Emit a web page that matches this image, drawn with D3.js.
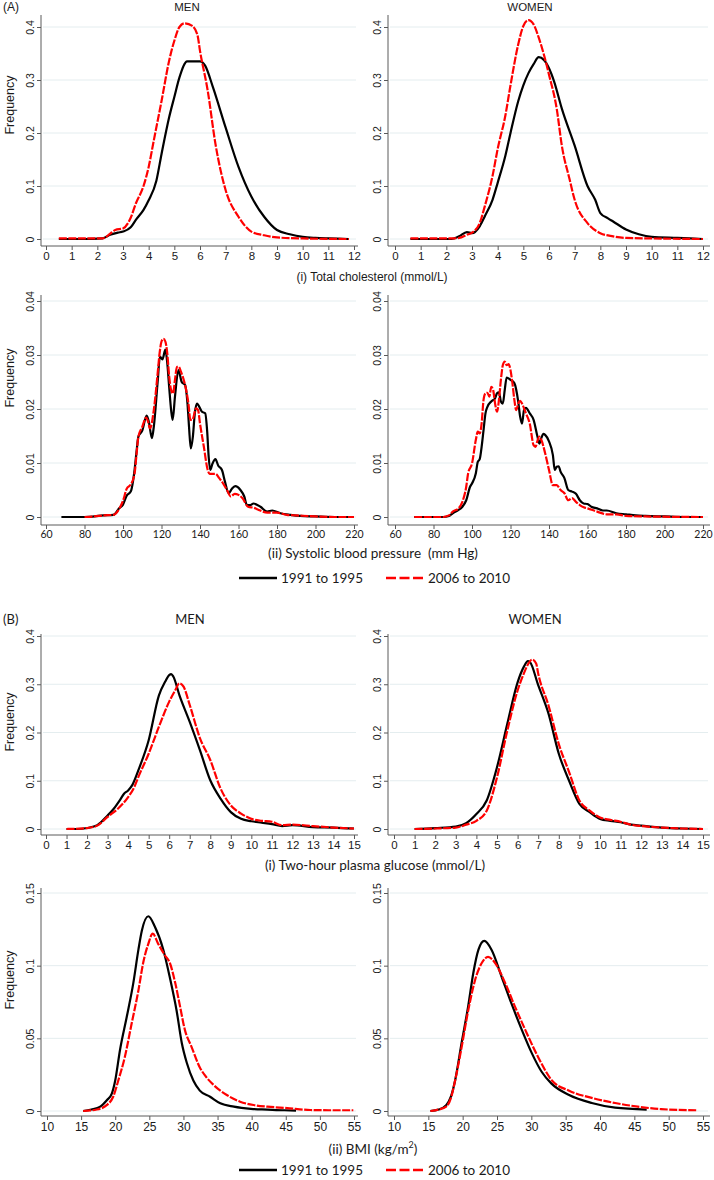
<!DOCTYPE html>
<html>
<head>
<meta charset="utf-8">
<script src="https://cdn.jsdelivr.net/npm/d3@7"></script>
<style>
    body { margin: 0; background: #fff; }
    text { fill: #1a1a1a; }
</style>
</head>
<body>
<svg id="chart" width="714" height="1180"></svg>
<script>
/* global d3 */
// --- data: [value, frequency] pairs ---
var cholTicks = [0, 1, 2, 3, 4, 5, 6, 7, 8, 9, 10, 11, 12];
var cholFreqTicks = [0, 0.1, 0.2, 0.3, 0.4];
var cholMenOld = [[0.5,0],[1.5,0],[2.2,0.001],[2.5,0.008],[2.8,0.012],[3.0,0.014],[3.3,0.022],[3.5,0.036],[3.8,0.055],[4.0,0.073],[4.3,0.11],[4.5,0.16],[4.8,0.23],[5.0,0.268],[5.2,0.305],[5.5,0.335],[5.8,0.335],[6.0,0.335],[6.2,0.327],[6.5,0.287],[7.0,0.21],[7.5,0.136],[8.0,0.08],[8.5,0.042],[9.0,0.017],[9.5,0.009],[10.0,0.004],[10.5,0.002],[11.0,0.001],[11.8,0]];
var cholMenNew = [[0.5,0.001],[2.2,0.001],[2.5,0.01],[2.7,0.017],[3.0,0.02],[3.3,0.04],[3.5,0.067],[3.8,0.1],[4.0,0.136],[4.2,0.186],[4.5,0.26],[4.8,0.337],[5.0,0.374],[5.2,0.4],[5.4,0.407],[5.7,0.402],[5.9,0.385],[6.0,0.355],[6.3,0.28],[6.6,0.18],[7.0,0.092],[7.5,0.042],[8.0,0.014],[8.5,0.007],[9.0,0.003],[10.0,0.001],[11.8,0]];
var cholWomenOld = [[0.6,0],[2.2,0],[2.5,0.005],[2.8,0.013],[3.0,0.011],[3.3,0.024],[3.5,0.043],[3.8,0.074],[4.0,0.106],[4.3,0.157],[4.5,0.2],[4.8,0.26],[5.0,0.29],[5.2,0.313],[5.4,0.33],[5.6,0.343],[5.8,0.338],[6.0,0.322],[6.2,0.297],[6.5,0.246],[7.0,0.176],[7.5,0.1],[7.8,0.074],[8.0,0.049],[8.3,0.039],[8.5,0.033],[9.0,0.018],[9.5,0.009],[10.0,0.004],[11.0,0.002],[12.0,0]];
var cholWomenNew = [[0.6,0.001],[2.2,0.001],[2.5,0.002],[2.8,0.008],[3.0,0.012],[3.3,0.03],[3.5,0.062],[3.8,0.119],[4.0,0.17],[4.3,0.233],[4.5,0.29],[4.8,0.367],[5.0,0.402],[5.2,0.413],[5.4,0.405],[5.6,0.38],[5.8,0.348],[6.0,0.31],[6.3,0.246],[6.5,0.176],[6.8,0.113],[7.0,0.074],[7.5,0.03],[8.0,0.011],[8.5,0.005],[9.0,0.002],[10.0,0.001],[12.0,0]];

var sbpTicks = [60, 80, 100, 120, 140, 160, 180, 200, 220];
var sbpFreqTicks = [0, 0.01, 0.02, 0.03, 0.04];
var sbpMenOld = [[68,0],[80,0],[90,0.0003],[95,0.0004],[98,0.0016],[100,0.0023],[102,0.004],[104,0.0047],[106,0.0087],[107,0.012],[108,0.0149],[110,0.016],[112.3,0.0188],[113.5,0.0175],[115,0.0146],[116,0.0167],[118,0.025],[119.2,0.0297],[120.5,0.0292],[122,0.031],[123,0.0285],[124,0.024],[125,0.0198],[125.8,0.018],[127,0.0223],[128.8,0.0272],[130.5,0.025],[132.3,0.0244],[133.5,0.021],[134.3,0.0167],[135.2,0.0127],[136.3,0.0149],[137.3,0.0192],[138.4,0.021],[141,0.0195],[142.7,0.0192],[143.7,0.016],[144.5,0.0112],[145.3,0.0087],[146.5,0.0099],[148,0.0107],[149.5,0.0095],[151.4,0.0087],[153,0.0065],[154.9,0.0044],[156.5,0.0052],[158.3,0.0057],[161,0.005],[163,0.0038],[164.4,0.0022],[166,0.0022],[167.8,0.0025],[171.4,0.0019],[174.9,0.001],[177.5,0.0012],[181.8,0.0007],[187,0.0004],[192,0.0002],[200,0.0001],[210,0],[220,0]];
var sbpMenNew = [[80,0],[85,0.0001],[90,0.0003],[95,0.0004],[98,0.0015],[100,0.003],[102,0.0053],[104,0.006],[106,0.008],[107,0.0115],[108,0.0149],[110,0.0167],[112,0.0184],[113,0.0177],[114,0.0164],[116,0.0198],[118,0.0266],[119,0.0303],[120,0.0325],[121,0.033],[122,0.0325],[123,0.0303],[124,0.026],[125,0.0235],[126,0.0229],[127,0.0254],[128,0.0278],[129,0.0278],[130,0.027],[132,0.0248],[134,0.021],[135,0.018],[136,0.018],[138,0.0201],[139,0.0198],[140,0.0173],[142,0.013],[144,0.0087],[145,0.008],[148,0.008],[150,0.0072],[152,0.0062],[154,0.005],[156,0.0038],[158,0.0043],[160,0.0041],[162,0.0035],[165,0.0019],[168,0.0017],[170,0.0014],[175,0.0008],[180,0.0008],[185,0.0004],[190,0.0003],[200,0.0001],[210,0],[220,0]];
var sbpWomenOld = [[70,0],[85,0],[88,0.0002],[90,0.0007],[93,0.0013],[95,0.0019],[97,0.0031],[99,0.0056],[100,0.0062],[102,0.0081],[103,0.0102],[104,0.0107],[105,0.013],[106,0.0161],[107,0.0192],[108,0.0204],[110,0.0214],[112,0.022],[113,0.0229],[114,0.0231],[115,0.0214],[116,0.021],[117,0.0235],[118,0.0258],[120,0.0254],[122,0.0248],[124,0.0214],[125,0.0186],[126,0.0173],[127,0.0198],[128,0.0202],[130,0.0192],[132,0.018],[134,0.0149],[135,0.0136],[136,0.0146],[137,0.0154],[138,0.0152],[140,0.014],[142,0.0115],[143,0.0087],[144,0.0093],[145,0.0094],[146,0.0084],[148,0.0072],[150,0.005],[152,0.0047],[154,0.0043],[156,0.0031],[158,0.0025],[160,0.0024],[162,0.0019],[165,0.0016],[168,0.0012],[170,0.0012],[175,0.0007],[180,0.0005],[185,0.0003],[190,0.0002],[200,0.0001],[210,0],[220,0]];
var sbpWomenNew = [[70,0],[85,0],[88,0.0003],[90,0.001],[93,0.0016],[95,0.0028],[97,0.0056],[98,0.0081],[100,0.0099],[102,0.0143],[103,0.0158],[104,0.0155],[105,0.0173],[106,0.0217],[107,0.0229],[108,0.023],[109,0.0223],[110,0.0241],[111,0.0235],[112,0.021],[113,0.0195],[114,0.0217],[115,0.0254],[116,0.0281],[117,0.0288],[118,0.0281],[119,0.0283],[120,0.0272],[121,0.0248],[122,0.0217],[123,0.0198],[124,0.021],[125,0.0215],[126,0.021],[128,0.0192],[130,0.0173],[132,0.0133],[133,0.013],[134,0.0141],[135,0.0149],[136,0.0143],[138,0.0118],[140,0.0087],[142,0.0059],[144,0.0059],[146,0.005],[148,0.0044],[150,0.0031],[152,0.0035],[154,0.0028],[156,0.0022],[158,0.0018],[160,0.0016],[165,0.001],[170,0.0005],[175,0.0005],[180,0.0002],[190,0.0001],[220,0]];

var glucTicks = [0, 1, 2, 3, 4, 5, 6, 7, 8, 9, 10, 11, 12, 13, 14, 15];
var glucFreqTicks = [0, 0.1, 0.2, 0.3, 0.4];
var glucMenOld = [[1.0,0],[1.5,0],[2.0,0.002],[2.5,0.008],[3.0,0.028],[3.3,0.042],[3.6,0.06],[3.8,0.073],[4.0,0.08],[4.2,0.091],[4.5,0.122],[5.0,0.184],[5.5,0.277],[5.8,0.305],[6.0,0.319],[6.1,0.321],[6.2,0.316],[6.5,0.277],[7.0,0.222],[7.5,0.163],[8.0,0.101],[8.5,0.063],[9.0,0.035],[9.5,0.021],[10.0,0.016],[10.5,0.013],[11.0,0.01],[11.5,0.006],[12.0,0.008],[13.0,0.004],[14.0,0.003],[15.0,0.001]];
var glucMenNew = [[1.0,0],[2.0,0.002],[2.5,0.007],[3.0,0.025],[3.5,0.042],[4.0,0.066],[4.3,0.087],[4.5,0.108],[5.0,0.156],[5.5,0.212],[6.0,0.264],[6.3,0.288],[6.5,0.302],[6.7,0.295],[7.0,0.257],[7.5,0.188],[8.0,0.143],[8.5,0.084],[9.0,0.049],[9.5,0.032],[10.0,0.021],[10.5,0.017],[11.0,0.015],[11.5,0.008],[12.0,0.009],[13.0,0.006],[14.0,0.003],[15.0,0.001]];
var glucWomenOld = [[1.0,0],[2.0,0.002],[3.0,0.005],[3.5,0.012],[4.0,0.031],[4.5,0.059],[5.0,0.128],[5.5,0.218],[6.0,0.304],[6.3,0.336],[6.5,0.348],[6.6,0.346],[7.0,0.298],[7.5,0.239],[8.0,0.156],[8.5,0.1],[9.0,0.052],[9.5,0.035],[10.0,0.021],[10.5,0.017],[11.0,0.014],[11.5,0.009],[12.0,0.007],[13.0,0.003],[14.0,0.001],[15.0,0]];
var glucWomenNew = [[1.0,0],[2.0,0.001],[3.0,0.003],[3.5,0.009],[4.0,0.017],[4.5,0.038],[5.0,0.107],[5.5,0.204],[6.0,0.287],[6.3,0.322],[6.5,0.341],[6.7,0.351],[6.9,0.343],[7.0,0.322],[7.5,0.256],[8.0,0.176],[8.5,0.118],[9.0,0.059],[9.5,0.038],[10.0,0.024],[10.5,0.019],[11.0,0.015],[11.5,0.009],[12.0,0.006],[13.0,0.003],[14.0,0.001],[15.0,0]];

var bmiTicks = [10, 15, 20, 25, 30, 35, 40, 45, 50, 55];
var bmiFreqTicks = [0, 0.05, 0.1, 0.15];
var bmiMenOld = [[15.3,0],[16.5,0.001],[17.8,0.003],[18.8,0.0076],[19.5,0.012],[20.0,0.021],[20.7,0.042],[21.7,0.065],[22.65,0.088],[23.4,0.111],[23.9,0.124],[24.85,0.134],[25.8,0.127],[27.05,0.111],[28.0,0.092],[29.0,0.069],[29.75,0.047],[30.5,0.033],[31.45,0.021],[32.4,0.014],[33.9,0.0098],[35.4,0.0053],[37.4,0.003],[39.9,0.0015],[42.3,0.001],[44.8,0.0005],[46.5,0.0003]];
var bmiMenNew = [[15.3,0],[17.3,0.001],[18.75,0.004],[19.7,0.0098],[20.45,0.021],[21.4,0.037],[22.4,0.06],[23.4,0.083],[24.1,0.102],[24.85,0.115],[25.5,0.122],[26.3,0.115],[27.3,0.107],[28.0,0.102],[28.8,0.088],[29.5,0.072],[30.2,0.056],[31.2,0.044],[32.4,0.03],[33.4,0.023],[34.4,0.018],[36.35,0.011],[38.3,0.0064],[40.3,0.0041],[42.3,0.003],[45.2,0.002],[48.6,0.0007],[52.0,0.0005],[54.9,0.0005]];
var bmiWomenOld = [[15.3,0],[16.5,0.001],[17.6,0.004],[18.3,0.01],[18.9,0.021],[19.85,0.047],[20.8,0.072],[21.55,0.095],[22.3,0.111],[23.15,0.117],[24.2,0.111],[25.7,0.092],[27.1,0.074],[28.6,0.056],[30.05,0.04],[31.5,0.027],[32.9,0.019],[35.5,0.011],[38.8,0.0055],[42.2,0.0023],[46.8,0.001]];
var bmiWomenNew = [[15.3,0],[16.5,0.001],[17.6,0.003],[18.3,0.009],[18.9,0.021],[19.85,0.044],[20.8,0.069],[21.8,0.09],[22.8,0.102],[23.7,0.106],[24.7,0.102],[26.2,0.088],[27.6,0.072],[29.1,0.056],[31.0,0.037],[33.0,0.021],[35.5,0.014],[38.8,0.009],[42.2,0.0055],[45.5,0.003],[48.9,0.0013],[54.2,0.0005]];

var legendLabels = ['1991 to 1995', '2006 to 2010'];

(function(d3) {
    'use strict';

    var svg = d3.select('#chart'),
        ARIAL = '"Liberation Sans", Arial, sans-serif',
        CALIBRI = 'Lato, "Open Sans", sans-serif',
        AXIS_COL = '#5a5a5a',
        GRID_COL = '#e4edef',
        OLD_COL = '#000',
        NEW_COL = '#f00';

    var densityPanel = function(cfg) {
        var g = svg.append('g'),
            x = d3.scaleLinear().domain(cfg.xDomain).range(cfg.xRange),
            y = d3.scaleLinear().domain(cfg.yDomain).range(cfg.yRange),
            line = d3.line()
                .x(function(d) { return x(d[0]); })
                .y(function(d) { return y(d[1]); })
                .curve(d3.curveMonotoneX);

        g.selectAll('line.grid').data(cfg.yTicks).enter().append('line')
            .attr('class', 'grid')
            .attr('x1', cfg.left + 2).attr('x2', cfg.right - 2)
            .attr('y1', function(d) { return y(d); })
            .attr('y2', function(d) { return y(d); })
            .attr('stroke', GRID_COL).attr('stroke-width', 1);

        // y axis, labels rotated like the original
        var ya = g.append('g')
            .attr('transform', 'translate(' + cfg.left + ',0)')
            .call(d3.axisLeft(y).tickValues(cfg.yTicks).tickSize(4)
                .tickFormat(function(d) { return String(d); }));
        ya.select('.domain').remove();
        ya.selectAll('line').attr('stroke', AXIS_COL);
        ya.selectAll('text')
            .attr('x', null).attr('dy', null)
            .attr('text-anchor', 'middle')
            .attr('transform', 'translate(-7,0) rotate(-90)')
            .style('font-family', ARIAL).style('font-size', '10.5px');

        var xa = g.append('g')
            .attr('transform', 'translate(0,' + cfg.axisY + ')')
            .call(d3.axisBottom(x).tickValues(cfg.xTicks).tickSize(4));
        xa.select('.domain').remove();
        xa.selectAll('line').attr('stroke', AXIS_COL);
        xa.selectAll('text')
            .attr('y', 6)
            .style('font-family', cfg.tickFont || ARIAL)
            .style('font-size', cfg.tickSize || '11.5px');

        g.append('line')
            .attr('x1', cfg.left).attr('x2', cfg.left)
            .attr('y1', cfg.top).attr('y2', cfg.axisY)
            .attr('stroke', AXIS_COL).attr('stroke-width', 1);
        g.append('line')
            .attr('x1', cfg.left).attr('x2', cfg.right)
            .attr('y1', cfg.axisY).attr('y2', cfg.axisY)
            .attr('stroke', AXIS_COL).attr('stroke-width', 1);

        if (cfg.ylabel) {
            g.append('text')
                .attr('transform', 'translate(14,' + cfg.ylabelY + ') rotate(-90)')
                .attr('text-anchor', 'middle')
                .style('font-family', ARIAL).style('font-size', '12.5px')
                .text('Frequency');
        }

        g.append('path').datum(cfg.oldData)
            .attr('d', line).attr('fill', 'none')
            .attr('stroke', OLD_COL).attr('stroke-width', 2.2)
            .attr('stroke-linejoin', 'round');
        g.append('path').datum(cfg.newData)
            .attr('d', line).attr('fill', 'none')
            .attr('stroke', NEW_COL).attr('stroke-width', 2.2)
            .attr('stroke-dasharray', '8,1.5');
    };

    var label = function(txt, x, y, font, size, anchor) {
        return svg.append('text')
            .attr('x', x).attr('y', y)
            .attr('text-anchor', anchor || 'middle')
            .style('font-family', font).style('font-size', size)
            .text(txt);
    };

    var legend = function(y) {
        svg.append('line').attr('x1', 239).attr('x2', 277).attr('y1', y).attr('y2', y)
            .attr('stroke', OLD_COL).attr('stroke-width', 2.5);
        svg.append('line').attr('x1', 386).attr('x2', 424).attr('y1', y).attr('y2', y)
            .attr('stroke', NEW_COL).attr('stroke-width', 2.5)
            .attr('stroke-dasharray', '10,3.5');
        label(legendLabels[0], 281, y + 5, CALIBRI, '13.5px', 'start');
        label(legendLabels[1], 428, y + 5, CALIBRI, '13.5px', 'start');
    };

    var men = {left: 41, right: 358, xRange: [46, 354], ylabel: true},
        women = {left: 388, right: 710, xRange: [395, 703], ylabel: false};

    var row = function(side, opts) {
        densityPanel(Object.assign({}, side, opts));
    };

    // (A) row 1: total cholesterol
    var cholRow = {xDomain: [0, 12], yDomain: [0, 0.4], yRange: [239, 27], top: 15, axisY: 246,
        xTicks: cholTicks, yTicks: cholFreqTicks, ylabelY: 105};
    row(men, Object.assign({oldData: cholMenOld, newData: cholMenNew}, cholRow));
    row(women, Object.assign({oldData: cholWomenOld, newData: cholWomenNew}, cholRow));

    // (A) row 2: systolic blood pressure
    var sbpRow = {xDomain: [60, 220], yDomain: [0, 0.04], yRange: [517, 301], top: 295, axisY: 525,
        xTicks: sbpTicks, yTicks: sbpFreqTicks, ylabelY: 378, tickFont: CALIBRI, tickSize: '10.5px'};
    row(men, Object.assign({oldData: sbpMenOld, newData: sbpMenNew}, sbpRow));
    row(women, Object.assign({oldData: sbpWomenOld, newData: sbpWomenNew}, sbpRow));

    // (B) row 1: two-hour plasma glucose
    var glucRow = {xDomain: [0, 15], yDomain: [0, 0.4], yRange: [829, 636], top: 634, axisY: 835,
        xTicks: glucTicks, yTicks: glucFreqTicks, ylabelY: 722};
    row(men, Object.assign({oldData: glucMenOld, newData: glucMenNew}, glucRow));
    row(Object.assign({}, women, {xRange: [394, 703]}),
        Object.assign({oldData: glucWomenOld, newData: glucWomenNew}, glucRow));

    // (B) row 2: BMI
    var bmiRow = {xDomain: [10, 55], yDomain: [0, 0.15], yRange: [1111, 893], top: 888, axisY: 1116,
        xTicks: bmiTicks, yTicks: bmiFreqTicks, ylabelY: 980, tickSize: '12px'};
    row(Object.assign({}, men, {xRange: [47, 354]}),
        Object.assign({oldData: bmiMenOld, newData: bmiMenNew}, bmiRow));
    row(Object.assign({}, women, {xRange: [394, 703]}),
        Object.assign({oldData: bmiWomenOld, newData: bmiWomenNew}, bmiRow));

    // headers and axis titles
    label('(A)', 3, 11, ARIAL, '12px', 'start');
    label('MEN', 187, 11, ARIAL, '11.5px');
    label('WOMEN', 530, 11, ARIAL, '11.5px');
    label('(i) Total cholesterol (mmol/L)', 372, 281, ARIAL, '12px');
    label('(ii) Systolic blood pressure  (mm Hg)', 373, 558, CALIBRI, '13.5px')
        .style('white-space', 'pre');
    legend(578);

    label('(B)', 3, 624, CALIBRI, '13px', 'start');
    label('MEN', 190, 624, CALIBRI, '13px');
    label('WOMEN', 535, 624, CALIBRI, '13px');
    label('(i) Two-hour plasma glucose (mmol/L)', 375, 870, CALIBRI, '13.5px');
    var bmiTitle = label('(ii) BMI (kg/m', 373, 1154, CALIBRI, '13.5px');
    bmiTitle.append('tspan').attr('dy', -6).style('font-size', '9px').text('2');
    bmiTitle.append('tspan').attr('dy', 6).text(')');
    legend(1170);
}(d3));
</script>
</body>
</html>
